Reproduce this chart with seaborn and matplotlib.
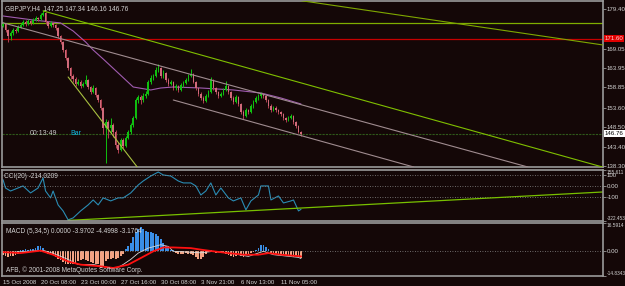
import numpy as np
import matplotlib
matplotlib.use("Agg")
import matplotlib.pyplot as plt
import matplotlib.transforms as mtrans
import seaborn as sns

# GBPJPY H4 bars
close = [175.47, 173.90, 172.33, 173.12, 173.90, 173.64, 174.69, 175.21, 176.00, 175.47,
         176.26, 175.74, 176.52, 177.04, 176.78, 177.83, 178.35, 176.00, 174.95, 175.74,
         175.21, 174.43, 172.33, 170.76, 168.67, 166.57, 163.96, 161.86, 161.08, 159.77,
         160.29, 159.24, 159.77, 160.81, 158.98, 157.67, 158.72, 156.89, 155.58, 153.48,
         148.25, 149.82, 148.25, 149.03, 147.20, 143.80, 142.49, 145.11, 143.54, 145.63,
         147.20, 149.03, 150.87, 155.58, 156.36, 155.58, 156.63, 157.15, 160.29, 161.34,
         161.86, 163.43, 163.96, 161.86, 162.65, 160.81, 159.77, 160.29, 158.72, 159.24,
         158.20, 159.50, 160.03, 160.81, 161.86, 162.38, 160.29, 158.72, 157.15, 156.10,
         155.32, 156.63, 157.67, 160.81, 158.72, 157.67, 156.63, 157.15, 158.20, 159.24,
         157.67, 156.10, 155.05, 156.36, 154.53, 152.44, 151.39, 152.96, 152.44, 154.01,
         155.05, 156.10, 156.63, 157.15, 156.63, 155.58, 154.01, 152.96, 153.48, 152.96,
         152.44, 151.91, 150.87, 150.34, 150.87, 151.39, 149.82, 148.77, 147.25, 146.76]
high = [175.90, 175.70, 174.10, 173.60, 174.30, 174.50, 175.10, 175.80, 176.40, 176.50,
        176.80, 176.60, 177.00, 177.50, 177.40, 178.30, 179.20, 178.50, 176.30, 176.20,
        176.10, 175.60, 174.70, 172.60, 171.00, 169.00, 166.90, 164.30, 162.40, 161.50,
        161.00, 160.70, 160.30, 162.10, 161.20, 159.30, 159.60, 159.00, 157.20, 155.90,
        153.70, 150.60, 150.30, 150.80, 149.50, 147.60, 144.60, 145.70, 145.60, 146.20,
        147.80, 149.60, 151.40, 156.20, 157.00, 156.90, 157.30, 158.00, 160.80, 162.00,
        162.50, 164.20, 165.10, 164.30, 163.30, 163.00, 161.30, 160.90, 160.60, 159.80,
        159.60, 160.00, 160.60, 161.40, 162.40, 163.60, 162.70, 160.60, 159.10, 157.60,
        156.50, 157.10, 158.20, 161.60, 161.10, 159.10, 158.00, 157.70, 158.70, 160.50,
        159.60, 158.00, 156.50, 156.90, 156.70, 154.90, 152.90, 153.40, 153.30, 154.50,
        155.60, 156.60, 157.10, 157.60, 157.50, 157.00, 155.90, 154.40, 154.00, 153.90,
        153.30, 152.80, 152.20, 151.20, 151.50, 151.90, 151.70, 150.10, 149.10, 147.34]
low = [174.60, 173.40, 170.80, 171.20, 172.60, 173.00, 173.30, 174.30, 174.90, 175.00,
       175.20, 175.30, 175.50, 176.20, 176.30, 176.60, 177.50, 175.60, 174.50, 174.70,
       174.80, 174.00, 171.90, 170.30, 168.20, 166.00, 163.40, 161.20, 160.40, 159.20,
       159.40, 158.70, 158.90, 159.50, 158.40, 157.10, 157.30, 156.30, 155.00, 152.90,
       146.80, 139.10, 145.60, 147.00, 146.00, 143.00, 141.80, 142.10, 143.00, 143.20,
       145.30, 146.80, 148.60, 150.50, 154.90, 154.50, 155.00, 156.20, 156.90, 159.80,
       160.90, 161.50, 163.00, 161.40, 161.30, 160.30, 159.30, 159.40, 158.20, 158.30,
       157.70, 157.90, 159.10, 159.70, 160.50, 161.50, 159.90, 158.20, 156.60, 155.60,
       154.80, 155.00, 156.30, 157.40, 158.30, 157.20, 156.20, 156.30, 156.90, 157.90,
       157.20, 155.60, 154.50, 154.80, 154.00, 151.90, 150.60, 151.00, 151.90, 152.10,
       153.60, 154.70, 155.70, 156.20, 156.20, 155.10, 153.50, 152.50, 152.60, 152.50,
       152.00, 151.40, 150.40, 149.80, 150.00, 150.50, 149.40, 148.30, 146.90, 146.16]
first_open = 174.90

# moving average (purple)
ma_bar = [0, 12, 23, 28, 33, 36, 40, 46, 52, 59, 63, 68, 79, 92, 103, 111, 119]
ma_val = [177.57, 176.52, 175.74, 173.64, 170.76, 168.67, 166.31, 162.65, 158.98,
          158.20, 158.72, 158.98, 158.72, 158.20, 157.41, 156.10, 154.53]

# drawn objects on the price panel: (bar, price) end points
trend_a = [(16, 178.9), (239.6, 138.0)]
trend_b = [(117.2, 181.76), (239.6, 169.98)]
channel_up = [(-1.2, 176.0), (209.6, 138.04)]
channel_lo = [(68, 155.58), (164, 138.04)]
steep_line = [(26, 161.6), (53.6, 138.04)]
green_level = 175.8
red_level = 171.60
bid = 146.76

# CCI(20)
cci_bar = [0, 1, 3, 6, 8, 11, 14, 16, 17, 19, 20, 22, 24, 26, 28, 31, 34, 36, 38, 40,
           43, 46, 48, 51, 54, 56, 59, 62, 64, 67, 70, 72, 75, 77, 79, 81, 83, 85, 87, 90,
           92, 95, 97, 99, 102, 103, 106, 107, 110, 112, 115, 116, 118, 119]
cci_val = [61, -16, -44, -16, 3, -62, -16, 77, -44, -108, -44, -173, -229, -312, -294,
           -229, -173, -127, -173, -108, -136, -108, -108, -62, 12, 49, 95, 132, 105, 95,
           49, 31, 31, 3, -81, -44, 31, -81, -16, -108, -136, -108, -219, -136, -81, 3,
           3, -127, -90, -155, -136, -127, -229, -214]
cci_trend = [(26, -317), (239.6, -53)]

# MACD
macd_hist = [-2.5, -3, -3.5, -3, -3, -2.5, -2,
             0.5, 0.8, 1, 0.8, 1, 1.2,
             2, 3, 3.2, 2,
             -0.5, -1.5, -2, -2.5,
             -3.5, -4.5, -5.5, -6.5, -7.5, -8, -8, -7.5,
             -7, -6, -5.5, -5, -5.5, -6, -6.5, -7, -7.5, -8,
             -10, -9,
             -6, -5, -4.5, -4, -4.5, -4,
             -3, -1.5,
             1, 3, 5, 8, 11, 13, 14.5, 13, 12, 11.5, 11, 10.5, 10, 9, 7, 5, 3, 1.5,
             0.5, 0.3,
             -1, -1.5, -2, -1.5, -1, -1.5, -2, -2.5,
             -3.5, -4.5, -4.5, -3.5,
             -1.5, -0.5, 0.5, -0.5, -1, -0.8, -0.5, -1,
             -1.5, -2.5, -3, -3.5, -3, -2.5, -3, -3.5, -2.5, -1.5,
             -1, -0.5, 0.5, 1.5,
             3.5, 3.5, 2.5, 1,
             -1.5, -2, -2.5, -2.5, -2, -2.5, -3, -2.5, -3, -3.5, -3, -3.5, -3.97]
signal_bar = [0, 7, 15, 20, 26, 31, 39, 44, 50, 55, 60, 64, 68, 75, 79, 84, 90, 96, 102,
              106, 111, 119]
signal_val = [-0.65, -1.25, 0.2, -2.2, -6.2, -8.1, -9.1, -10.1, -8.1, -4.2, -0.2, 2.1,
              2.1, 1.7, 0.8, -0.2, -1.25, -2.2, -2.2, -1.25, -2.2, -3.18]
main_bar = [0, 16, 20, 26, 30, 36, 43, 46, 48, 51, 54, 58, 63, 66, 68, 74, 79, 84, 91,
            98, 104, 108, 118, 119]
main_val = [-1.1, 0.4, -1.4, -5, -8, -8, -10.1, -9.7, -8, -5, -1.25, 1.7, 3.7, 2.7, -0.2,
            -0.65, -1.1, -0.2, -1.4, -3.2, -0.2, -2.2, -3.8, -4.5]

time_ticks = [0, 15, 31, 47, 63, 79, 95, 111]
time_labels = ["15 Oct 2008", "20 Oct 08:00", "23 Oct 00:00", "27 Oct 16:00",
               "30 Oct 08:00", "3 Nov 21:00", "6 Nov 13:00", "11 Nov 05:00"]
price_ticks = [179.40, 169.05, 163.95, 158.85, 153.60, 148.50, 143.40, 138.30]

# ---------------------------------------------------------------
bg = "#140707"
frame = "#9a9a9a"
txt = "#d4d4d4"
bull = "#10c010"
bear = "#d06a7a"
fs = 4.4
fs_small = 3.4

sns.set_style("dark", {"axes.facecolor": bg, "figure.facecolor": bg})
plt.rcParams["font.family"] = ["Liberation Sans", "DejaVu Sans"]

W, H = 625, 286
fig = plt.figure(figsize=(W / 100, H / 100), dpi=100, facecolor=bg)


def px_axes(top, bottom):
    return fig.add_axes([2 / W, 1 - bottom / H, 601 / W, (bottom - top) / H])


ax1 = px_axes(1, 167)
ax2 = px_axes(169.5, 221)
ax3 = px_axes(223, 276)

for ax in (ax1, ax2, ax3):
    ax.set_facecolor(bg)
    ax.set_xlim(-0.4, 239.6)
    ax.grid(False)
    for s in ax.spines.values():
        s.set_color(frame)
        s.set_linewidth(1.2)
    ax.yaxis.tick_right()
    ax.tick_params(axis="y", colors=frame, labelcolor=txt, labelsize=fs, length=2,
                   width=0.6, pad=0.8)
    ax.tick_params(axis="x", colors=frame, labelcolor=txt, labelsize=fs, length=2,
                   width=0.6, pad=1)

# ---- price panel ----
c = np.array(close)
h = np.array(high)
l = np.array(low)
o = np.r_[first_open, c[:-1]]
bars = np.arange(len(c))
up = c >= o
dn = ~up
ax1.vlines(bars[up], l[up], h[up], color=bull, lw=0.7, zorder=3)
ax1.bar(bars[up], c[up] - o[up], bottom=o[up], width=0.6, color=bull, lw=0, zorder=3)
ax1.vlines(bars[dn], l[dn], h[dn], color="#b04050", lw=0.7, zorder=3)
ax1.bar(bars[dn], c[dn] - o[dn], bottom=o[dn], width=0.6, color=bear, lw=0, zorder=3)

sns.lineplot(x=ma_bar, y=ma_val, ax=ax1, color="#a05cb0", lw=0.8, sort=False, zorder=2)

ax1.axhline(green_level, color="#7fae00", lw=0.9, zorder=1)
ax1.axhline(red_level, color="#c80000", lw=0.9, zorder=1)
ax1.axhline(bid, color="#2f5a1a", lw=0.8, ls=(0, (2, 1)), zorder=1)
for pts, col in [(trend_a, "#7fbf00"), (trend_b, "#7fa800"), (channel_up, "#a08c90"),
                 (channel_lo, "#a08c90"), (steep_line, "#a8c040")]:
    (x0, y0), (x1, y1) = pts
    ax1.plot([x0, x1], [y0, y1], color=col, lw=0.8, zorder=4)

ax1.set_ylim(138.04, 181.49)
ax1.set_yticks(price_ticks)
ax1.set_yticklabels([f"{v:.2f}" for v in price_ticks])
ax1.set_xticks([])
ax1.set_ylabel("")

tr1 = mtrans.blended_transform_factory(ax1.transAxes, ax1.transData)
ax1.text(1.003, red_level, f"{red_level:.2f}", transform=tr1, fontsize=fs, color="#ffd0d0",
         va="center", ha="left",
         bbox=dict(boxstyle="square,pad=0.15", fc="#e00000", ec="none"))
ax1.text(1.003, bid, f"{bid:.2f}", transform=tr1, fontsize=fs, color="black",
         va="center", ha="left",
         bbox=dict(boxstyle="square,pad=0.15", fc="white", ec="none"))
ax1.text(0.005, 0.975, "GBPJPY,H4  147.25 147.34 146.16 146.76", transform=ax1.transAxes,
         fontsize=fs + 0.3, color=txt, va="top", ha="left")
ax1.text(10.5, bid, "00:13:49", fontsize=fs + 0.6, color="#c8c8c8", va="center", ha="left")
ax1.text(27, bid, "Bar", fontsize=fs + 0.6, color="#10b8e0", va="center", ha="left")

# ---- CCI panel ----
sns.lineplot(x=cci_bar, y=cci_val, ax=ax2, color="#2a8cb4", lw=0.8, sort=False)
for lv in (100, 0, -100):
    ax2.axhline(lv, color="#8a8a8a", lw=0.6, ls=(0, (1, 2)))
(x0, y0), (x1, y1) = cci_trend
ax2.plot([x0, x1], [y0, y1], color="#78c000", lw=0.9)
ax2.set_ylim(-322.453, 155.611)
ax2.set_yticks([155.611, 100, 0, -100, -322.453])
ax2.set_yticklabels(["155.611", "100", "0.00", "-100", "-322.453"])
labs = ax2.get_yticklabels()
labs[0].set_va("top")
labs[-1].set_va("bottom")
labs[0].set_fontsize(fs_small)
labs[-1].set_fontsize(fs_small)
ax2.set_xticks([])
ax2.set_ylabel("")
ax2.text(0.004, 0.93, "CCI(20) -214.0209", transform=ax2.transAxes, fontsize=fs + 0.3,
         color=txt, va="top", ha="left")

# ---- MACD panel ----
hist = np.array(macd_hist)
hb = np.arange(len(hist))
ax3.bar(hb, hist, width=0.7, lw=0,
        color=np.where(hist >= 0, "#3a8ee6", "#f2a283"))
ax3.axhline(0, color="#8a8a8a", lw=0.6, ls=(0, (1, 2)))
sns.lineplot(x=main_bar, y=main_val, ax=ax3, color="#d8d8d8", lw=0.6, sort=False)
sns.lineplot(x=signal_bar, y=signal_val, ax=ax3, color="#ff1010", lw=1.3, sort=False)
ax3.set_ylim(-14.8343, 16.5914)
ax3.set_yticks([16.5914, 0, -14.8343])
ax3.set_yticklabels(["16.5914", "0.00", "-14.8343"])
labs = ax3.get_yticklabels()
labs[0].set_va("top")
labs[-1].set_va("bottom")
labs[0].set_fontsize(fs_small)
labs[-1].set_fontsize(fs_small)
ax3.set_ylabel("")
ax3.set_xticks(time_ticks)
ax3.set_xticklabels(time_labels, ha="left")
ax3.text(0.006, 0.9, "MACD (5,34,5) 0.0000 -3.9702 -4.4998 -3.1764",
         transform=ax3.transAxes, fontsize=fs + 0.3, color=txt, va="top", ha="left")
ax3.text(0.006, 0.04, "AFB, \u00a9 2001-2008 MetaQuotes Software Corp.",
         transform=ax3.transAxes, fontsize=fs + 0.3, color=txt, va="bottom", ha="left")

fig.savefig("out.png", dpi=100, facecolor=bg)
